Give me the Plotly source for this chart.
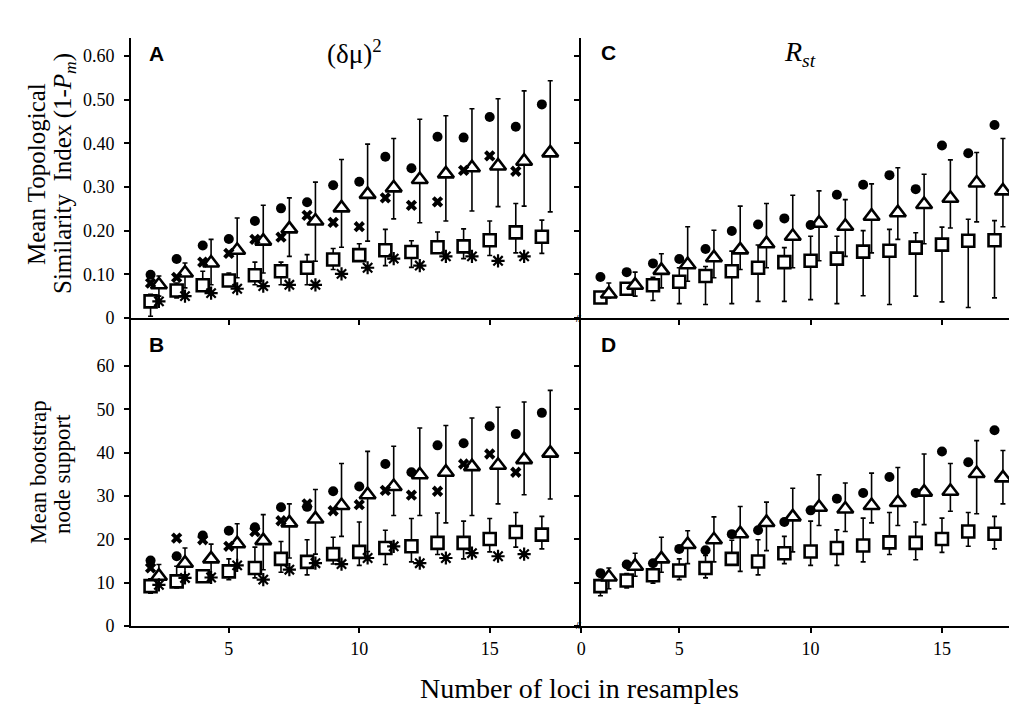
import plotly.graph_objects as go

# ---------------- data ----------------
loci = list(range(2, 18))          # circles, triangles, squares
loci_short = list(range(2, 17))    # crosses, asterisks

# Panel A: (dmu)^2, mean topological similarity index
A_circle = [0.099,0.135,0.166,0.181,0.222,0.251,0.265,0.304,0.312,0.369,0.343,0.415,0.413,0.460,0.438,0.489]
A_cross = [0.080,0.093,0.128,0.148,0.180,0.185,0.235,0.219,0.209,0.275,0.258,0.266,0.338,0.371,0.336]
A_tri = [0.076,0.103,0.126,0.155,0.176,0.204,0.222,0.252,0.283,0.298,0.317,0.330,0.344,0.348,0.359,0.378]
A_tri_hi = [0.096,0.126,0.180,0.229,0.258,0.275,0.311,0.363,0.398,0.411,0.455,0.463,0.479,0.502,0.520,0.543]
A_tri_lo = [0.050,0.069,0.076,0.092,0.103,0.141,0.130,0.162,0.176,0.227,0.218,0.222,0.245,0.255,0.256,0.243]
A_sq = [0.038,0.063,0.075,0.086,0.098,0.107,0.115,0.134,0.144,0.155,0.151,0.162,0.164,0.178,0.196,0.186]
A_sq_hi = [0.054,0.080,0.107,0.103,0.128,0.128,0.145,0.159,0.170,0.203,0.177,0.197,0.204,0.222,0.262,0.224]
A_sq_lo = [0.004,0.046,0.065,0.073,0.076,0.076,0.076,0.111,0.134,0.120,0.116,0.149,0.136,0.143,0.149,0.148]
A_ast = [0.038,0.050,0.057,0.067,0.073,0.076,0.076,0.101,0.115,0.136,0.120,0.141,0.141,0.131,0.141]

# Panel B: (dmu)^2, mean bootstrap node support
B_circle = [15.1,16.1,20.9,22.0,22.8,27.4,27.5,31.1,32.2,37.4,35.5,41.7,42.2,46.1,44.3,49.2]
B_cross = [13.4,20.3,19.9,18.4,21.8,24.3,28.2,26.6,28.0,31.3,30.2,31.1,37.4,39.7,35.5]
B_tri = [11.5,14.5,15.5,19.0,19.7,23.8,24.7,27.8,30.3,32.2,34.9,35.5,36.8,37.1,38.4,39.9]
B_tri_hi = [14.2,18.0,18.9,23.6,25.7,28.2,31.5,37.5,40.3,41.5,45.7,46.3,48.0,50.5,51.7,54.4]
B_tri_lo = [9.2,11.8,11.8,13.4,13.0,15.7,16.6,20.7,17.2,25.5,25.5,23.8,25.5,28.2,30.3,29.3]
B_sq = [9.2,10.3,11.5,12.6,13.4,15.5,14.8,16.6,17.1,18.0,18.4,19.2,19.2,20.1,21.7,21.1]
B_sq_hi = [10.9,13.8,12.6,15.5,18.2,19.5,19.9,20.5,24.0,22.1,24.8,26.1,24.2,24.8,26.2,25.3]
B_sq_lo = [7.6,8.8,10.3,10.7,11.1,12.4,11.8,14.3,14.0,14.2,14.8,16.5,15.5,17.1,18.2,17.8]
B_ast = [9.5,11.1,11.2,14.0,10.7,13.0,14.5,14.3,15.7,18.4,14.5,15.7,16.8,16.1,16.6]

# Panel C: Rst, mean topological similarity index
C_circle = [0.094,0.105,0.125,0.135,0.158,0.199,0.214,0.228,0.213,0.282,0.305,0.327,0.295,0.395,0.377,0.442]
C_tri = [0.055,0.075,0.109,0.122,0.138,0.156,0.170,0.187,0.217,0.210,0.233,0.241,0.260,0.274,0.309,0.291]
C_tri_hi = [0.080,0.105,0.147,0.209,0.201,0.256,0.262,0.281,0.291,0.271,0.307,0.344,0.329,0.362,0.379,0.411]
C_tri_lo = [0.046,0.050,0.069,0.084,0.092,0.111,0.115,0.115,0.131,0.141,0.149,0.180,0.170,0.206,0.220,0.209]
C_sq = [0.047,0.067,0.075,0.083,0.096,0.107,0.115,0.128,0.131,0.136,0.152,0.154,0.161,0.168,0.177,0.178]
C_sq_hi = [0.057,0.076,0.093,0.115,0.118,0.153,0.167,0.161,0.187,0.187,0.200,0.203,0.195,0.208,0.226,0.223]
C_sq_lo = [0.034,0.054,0.040,0.033,0.031,0.033,0.038,0.038,0.042,0.033,0.051,0.031,0.050,0.037,0.024,0.046]

# Panel D: Rst, mean bootstrap node support
D_circle = [12.2,14.2,14.5,17.8,17.5,21.2,22.1,24.0,26.7,29.4,30.7,34.4,30.7,40.3,37.8,45.2]
D_tri = [11.3,13.8,15.5,18.8,19.9,21.3,23.9,25.2,27.4,27.0,27.8,28.5,30.9,31.1,35.2,34.2]
D_tri_hi = [13.4,16.8,20.5,22.0,25.2,27.6,28.6,31.8,34.9,33.0,35.3,36.6,39.7,37.5,42.8,40.5]
D_tri_lo = [8.6,11.5,12.4,14.4,14.8,12.6,17.4,17.1,23.2,21.8,23.8,23.2,23.4,26.5,25.9,28.2]
D_sq = [9.2,10.5,11.7,12.8,13.4,15.5,14.9,16.8,17.2,18.0,18.6,19.3,19.2,20.1,21.8,21.3]
D_sq_hi = [10.7,12.1,13.0,15.5,16.3,19.8,19.9,20.7,24.2,22.2,24.9,26.2,24.0,24.9,26.2,25.3]
D_sq_lo = [7.0,8.8,9.9,10.7,11.1,14.7,11.8,14.4,14.0,14.0,14.8,16.5,15.3,17.0,18.4,17.8]

tsi_ticks = [0, 0.1, 0.2, 0.3, 0.4, 0.5, 0.6]
tsi_ticktext = ["0", "0.10", "0.20", "0.30", "0.40", "0.50", "0.60"]
bs_ticks = [0, 10, 20, 30, 40, 50, 60]
x_ticks = [5, 10, 15]

# ---------------- styling ----------------
OFF = 0.32
SERIF = "Liberation Serif, Times New Roman, serif"
SANS = "Liberation Sans, Arial, sans-serif"

fig = go.Figure()


def errs(mean, hi, lo):
    return dict(type="data", symmetric=False,
                array=[h - m for h, m in zip(hi, mean)],
                arrayminus=[m - l for m, l in zip(mean, lo)],
                color="black", thickness=1.6, width=2.5)


def add_panel(xa, ya, circ, tri, tri_hi, tri_lo, sq, sq_hi, sq_lo, cross=None, ast=None):
    fig.add_trace(go.Scatter(x=loci, y=sq, mode="markers", xaxis=xa, yaxis=ya,
                             error_y=errs(sq, sq_hi, sq_lo),
                             marker=dict(symbol="square", size=12, color="white",
                                         line=dict(color="black", width=2.6)),
                             showlegend=False))
    fig.add_trace(go.Scatter(x=[n + OFF for n in loci], y=tri, mode="markers", xaxis=xa, yaxis=ya,
                             error_y=errs(tri, tri_hi, tri_lo),
                             marker=dict(symbol="triangle-up", size=14, color="white",
                                         line=dict(color="black", width=2.6)),
                             showlegend=False))
    fig.add_trace(go.Scatter(x=loci, y=circ, mode="markers", xaxis=xa, yaxis=ya,
                             marker=dict(symbol="circle", size=10, color="black"),
                             showlegend=False))
    if cross is not None:
        fig.add_trace(go.Scatter(x=loci_short, y=cross, mode="markers", xaxis=xa, yaxis=ya,
                                 marker=dict(symbol="x", size=10, color="black",
                                             line=dict(width=0)),
                                 showlegend=False))
    if ast is not None:
        fig.add_trace(go.Scatter(x=[n + OFF for n in loci_short], y=ast, mode="markers",
                                 xaxis=xa, yaxis=ya,
                                 marker=dict(symbol="asterisk-open", size=11, color="black",
                                             line=dict(color="black", width=2.2)),
                                 showlegend=False))


add_panel("x", "y", A_circle, A_tri, A_tri_hi, A_tri_lo, A_sq, A_sq_hi, A_sq_lo, A_cross, A_ast)
add_panel("x3", "y3", B_circle, B_tri, B_tri_hi, B_tri_lo, B_sq, B_sq_hi, B_sq_lo, B_cross, B_ast)
add_panel("x2", "y2", C_circle, C_tri, C_tri_hi, C_tri_lo, C_sq, C_sq_hi, C_sq_lo)
add_panel("x4", "y4", D_circle, D_tri, D_tri_hi, D_tri_lo, D_sq, D_sq_hi, D_sq_lo)

W, H = 1017, 704
xl = [123 / W, 573 / W]
xr = [573 / W, 1.0]
yu = [1 - 310 / H, 1 - 30 / H]
yd = [1 - 618 / H, 1 - 310 / H]

tickfont = dict(family=SERIF, size=18, color="black")
axbase = dict(showline=True, linecolor="black", linewidth=2, ticks="outside",
              ticklen=5, tickwidth=1.5, tickcolor="black", showgrid=False,
              zeroline=False, automargin=False, tickfont=tickfont)

fig.update_layout(
    width=W, height=H,
    margin=dict(l=0, r=0, t=0, b=0),
    paper_bgcolor="white", plot_bgcolor="white",
    xaxis=dict(axbase, domain=xl, range=[1.25, 18.5], anchor="y",
               tickvals=x_ticks, showticklabels=False),
    yaxis=dict(axbase, domain=yu, range=[0, 0.641], anchor="x",
               tickvals=tsi_ticks, ticktext=tsi_ticktext, ticklabelstandoff=6),
    xaxis2=dict(axbase, domain=xr, range=[1.26, 18.16], anchor="y2",
                tickvals=x_ticks, showticklabels=False),
    yaxis2=dict(axbase, domain=yu, range=[0, 0.641], anchor="x2",
                tickvals=tsi_ticks, showticklabels=False),
    xaxis3=dict(axbase, domain=xl, range=[1.25, 18.5], anchor="y3",
                tickvals=x_ticks, ticktext=["5", "10", "15"]),
    yaxis3=dict(axbase, domain=yd, range=[0, 71.1], anchor="x3",
                tickvals=bs_ticks, ticklabelstandoff=6),
    xaxis4=dict(axbase, domain=xr, range=[1.26, 18.16], anchor="y4",
                tickvals=[1.27] + x_ticks, ticktext=["0", "5", "10", "15"]),
    yaxis4=dict(axbase, domain=yd, range=[0, 71.1], anchor="x4",
                tickvals=bs_ticks, showticklabels=False),
)


def paper_text(text, x, y, size, family=SERIF, angle=0):
    return dict(text=text, x=x / W, y=1 - y / H, xref="paper", yref="paper",
                showarrow=False, xanchor="center", yanchor="middle", textangle=angle,
                font=dict(family=family, size=size, color="black"))


ann = []
# panel letters
for txt, x, y in [("A", 148, 45), ("B", 148, 336), ("C", 600, 44), ("D", 600, 336)]:
    ann.append(paper_text(f"<b>{txt}</b>", x, y, 21, SANS))
# column titles
ann.append(paper_text("(δμ)<sup>2</sup>", 346, 44, 27))
ann.append(paper_text("<i>R</i><sub><i>st</i></sub>", 792, 46, 28))
# y-axis titles (one annotation per line)
ann.append(paper_text("Mean Topological", 28, 166, 25, angle=-90))
ann.append(paper_text("Similarity  Index (1-<i>P<sub>m</sub></i>)", 56, 166, 25, angle=-90))
ann.append(paper_text("Mean bootstrap", 30, 464, 23, angle=-90))
ann.append(paper_text("node support", 54, 466, 23, angle=-90))
# x-axis title
ann.append(paper_text("Number of loci in resamples", 571, 680, 28))
# axis-break marks
for x, y in [(571, 618), (571, 311)]:
    ann.append(paper_text("//", x, y, 9, SANS))
fig.update_layout(annotations=ann)

fig.write_html("out.html")
